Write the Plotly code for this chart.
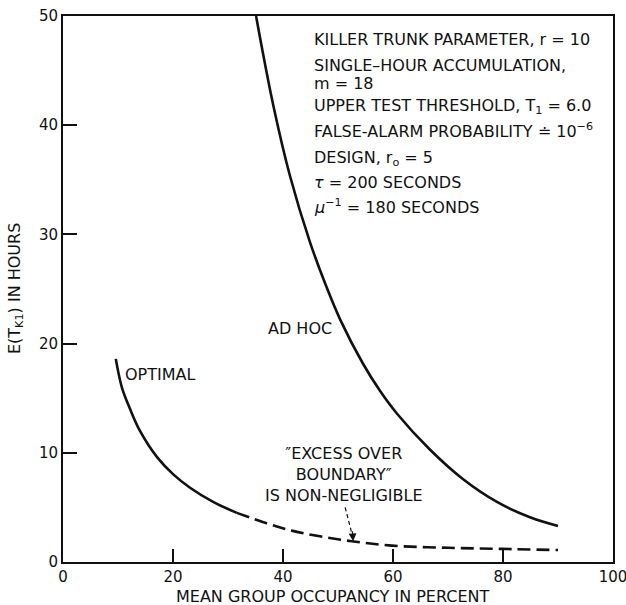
import plotly.graph_objects as go

# Expected time to detect a killer trunk vs. mean group occupancy
adhoc_x = [35.1, 38.2, 41.3, 44.9, 47.9, 50.4, 54.5, 57.6, 60.7, 66.7, 72.7, 78.9, 84.9, 90.0]
adhoc_y = [50.0, 41.9, 35.3, 29.3, 25.2, 22.2, 18.2, 15.7, 13.6, 10.3, 7.6, 5.5, 4.1, 3.3]

optimal_solid_x = [9.6, 10.7, 12.2, 14.0, 17.1, 20.1, 23.1, 27.3, 31.6]
optimal_solid_y = [18.6, 16.0, 14.0, 12.0, 9.6, 8.0, 6.8, 5.5, 4.5]

optimal_dashed_x = [31.6, 37.0, 41.8, 46.7, 52.5, 59.8, 70.0, 79.8, 90.0]
optimal_dashed_y = [4.5, 3.55, 2.85, 2.35, 1.9, 1.5, 1.3, 1.2, 1.1]

x_ticks = [0, 20, 40, 60, 80, 100]
y_ticks = [0, 10, 20, 30, 40, 50]

params = [
    "KILLER TRUNK PARAMETER, r = 10",
    "SINGLE\u2013HOUR ACCUMULATION,",
    "m = 18",
    "UPPER TEST THRESHOLD, T<sub>1</sub> = 6.0",
    "FALSE-ALARM PROBABILITY \u2250 10<sup>\u22126</sup>",
    "DESIGN, r<sub>o</sub> = 5",
    "<i>\u03c4</i> = 200 SECONDS",
    "<i>\u03bc</i><sup>\u22121</sup> = 180 SECONDS",
]
param_rows = [40, 65, 83, 107, 130, 159, 182, 206]

FONT = "DejaVu Sans, Liberation Sans, Arial, sans-serif"
INK = "#111111"
FS = 16

# page geometry (pixels)
L, R, T, B, W, H = 63, 13, 16, 43, 626, 605
pw, ph = W - L - R, H - T - B


def px(xp):
    return (xp - L) / pw


def py(yp):
    return (H - B - yp) / ph


def label(fig, txt, xp, yp, anchor="left", angle=0, size=FS):
    fig.add_annotation(x=px(xp), y=py(yp), xref="paper", yref="paper", text=txt,
                       showarrow=False, xanchor=anchor, yanchor="middle",
                       align="center", textangle=angle,
                       font=dict(size=size, color=INK, family=FONT))


fig = go.Figure()
curve = dict(color=INK, width=2.6, shape="spline", smoothing=1.0)
fig.add_trace(go.Scatter(x=adhoc_x, y=adhoc_y, mode="lines", line=curve,
                         showlegend=False, hoverinfo="skip"))
fig.add_trace(go.Scatter(x=optimal_solid_x, y=optimal_solid_y, mode="lines", line=curve,
                         showlegend=False, hoverinfo="skip"))
fig.add_trace(go.Scatter(x=optimal_dashed_x, y=optimal_dashed_y, mode="lines",
                         line=dict(curve, dash="13px,6px"),
                         showlegend=False, hoverinfo="skip"))

# dashed shaft of the pointer arrow, then its head
arrow_x = [51.3, 52.65]
arrow_y = [5.0, 2.35]
fig.add_trace(go.Scatter(x=arrow_x, y=arrow_y, mode="lines",
                         line=dict(color=INK, width=1.2, dash="4px,3px"),
                         showlegend=False, hoverinfo="skip"))
fig.add_annotation(x=52.75, y=1.9, ax=52.6, ay=2.95, xref="x", yref="y",
                   axref="x", ayref="y", text="", showarrow=True,
                   arrowhead=2, arrowsize=1.3, arrowwidth=1.2, arrowcolor=INK)

for txt, row in zip(params, param_rows):
    label(fig, txt, 312, row)

label(fig, "AD HOC", 266, 328)
label(fig, "OPTIMAL", 123, 374)
label(fig, "\u2033EXCESS OVER<br>BOUNDARY\u2033<br>IS NON-NEGLIGIBLE", 344, 474,
      anchor="center")
label(fig, "MEAN GROUP OCCUPANCY IN PERCENT", 333, 596, anchor="center")
label(fig, "E(T<sub>K1</sub>) IN HOURS", 15, 288, anchor="center", angle=-90)

fig.update_layout(
    width=W, height=H,
    margin=dict(l=L, r=R, t=T, b=B, pad=0),
    paper_bgcolor="white", plot_bgcolor="white",
    font=dict(family=FONT, size=15, color=INK),
    xaxis=dict(range=[0, 100], tickvals=x_ticks, ticktext=[str(v) for v in x_ticks],
               ticks="inside", ticklen=13, tickwidth=1.5, tickcolor=INK,
               ticklabeloverflow="allow", automargin=False,
               showline=True, linecolor=INK, linewidth=2, mirror=True,
               showgrid=False, zeroline=False, fixedrange=True),
    yaxis=dict(range=[0, 50], tickvals=y_ticks, ticktext=[str(v) for v in y_ticks],
               ticks="inside", ticklen=14, tickwidth=1.5, tickcolor=INK,
               ticklabeloverflow="allow", automargin=False,
               showline=True, linecolor=INK, linewidth=2, mirror=True,
               showgrid=False, zeroline=False, fixedrange=True),
)

fig.write_html("out.html")
